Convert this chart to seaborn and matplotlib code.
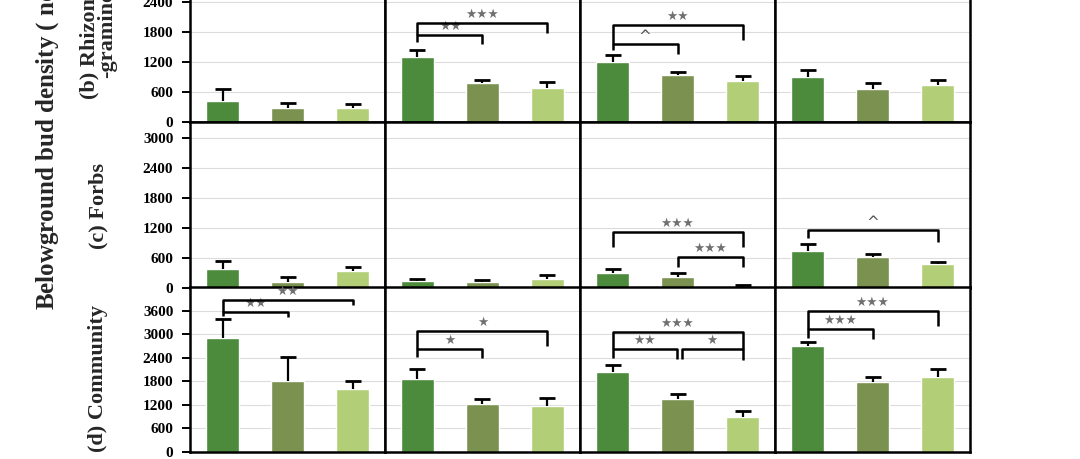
import numpy as np
import pandas as pd
import matplotlib
matplotlib.use("Agg")
import matplotlib.pyplot as plt
import seaborn as sns

# ---------------- data ----------------
groups = ["G1", "G2", "G3"]
colors = ["#4B8B3B", "#7B9150", "#B2CF78"]

row_labels = ["(b) Rhizomatous\n-graminoids", "(c) Forbs", "(d) Community"]
ylabel = "Belowground bud density ( no. m$^{-2}$ )"

# means per row (b, c, d), 4 columns each
means_b = [[430, 273, 273], [1293, 787, 673], [1200, 933, 827], [893, 660, 733]]
errs_b = [[224, 114, 94], [147, 53, 134], [133, 67, 100], [147, 113, 107]]

means_c = [[373, 120, 340], [140, 120, 173], [293, 213, 20], [747, 627, 480]]
errs_c = [[174, 93, 87], [40, 47, 87], [80, 94, 33], [126, 53, 47]]

means_d = [[2903, 1813, 1608], [1864, 1225, 1183], [2051, 1353, 902], [2706, 1779, 1915]]
errs_d = [[485, 621, 205], [247, 136, 204], [170, 128, 145], [111, 128, 212]]

yticks_bc = [0, 600, 1200, 1800, 2400, 3000]
yticks_d = [0, 600, 1200, 1800, 2400, 3000, 3600]

# significance brackets: (x_left, x_right, y_top, y_leg_left, y_leg_right, label)
brackets_b = [
    [],
    [(0, 1, 1740, 1607, 1560, "★★"), (0, 2, 1987, 1740, 1773, "★★★")],
    [(0, 1, 1560, 1433, 1367, "^"), (0, 2, 1940, 1560, 1640, "★★")],
    [],
]
brackets_c = [
    [],
    [],
    [(0, 2, 1113, 827, 826, "★★★"), (1, 2, 613, 427, 428, "★★★")],
    [(0, 2, 1160, 993, 913, "^")],
]
brackets_d = [
    [(0, 1, 3566, 3480, 3455, "★★"), (0, 2, 3880, 3566, 3753, "★★")],
    [(0, 1, 2630, 2434, 2392, "★"), (0, 2, 3097, 2630, 2714, "★")],
    [(0, 0.99, 2630, 2392, 2374, "★★"), (1.07, 2, 2630, 2374, 2349, "★"),
     (0, 2, 3056, 2630, 2630, "★★★")],
    [(0, 1, 3132, 2903, 2890, "★★★"), (0, 2, 3600, 3132, 3217, "★★★")],
]

# ---------------- style ----------------
sns.set_theme(style="white")
plt.rcParams["font.family"] = ["Liberation Serif", "DejaVu Sans"]
plt.rcParams["mathtext.fontset"] = "stix"

W, H = 1080, 459
fig = plt.figure(figsize=(W / 100, H / 100), dpi=100)

row_tops = [-44, 122, 287]
row_bottoms = [122, 288, 452]
row_ymax = [3320, 3320, 4210]
col_lefts = [190, 385, 580, 775]
col_w = 195

all_means = [means_b, means_c, means_d]
all_errs = [errs_b, errs_c, errs_d]
all_brackets = [brackets_b, brackets_c, brackets_d]
all_ticks = [yticks_bc, yticks_bc, yticks_d]

for r in range(3):
    for c in range(4):
        ax = fig.add_axes([col_lefts[c] / W, 1 - row_bottoms[r] / H,
                           col_w / W, (row_bottoms[r] - row_tops[r]) / H])
        m = all_means[r][c]
        e = all_errs[r][c]
        df = pd.DataFrame({"group": groups, "value": m})
        sns.barplot(data=df, x="group", y="value", hue="group", order=groups,
                    hue_order=groups, palette=colors, width=0.5, saturation=1,
                    legend=False, errorbar=None, ax=ax, zorder=2)
        cont = ax.errorbar(np.arange(3), m, yerr=[np.zeros(3), e], fmt="none",
                           ecolor="black", elinewidth=1.6, capsize=5.5,
                           capthick=2.0, zorder=3)
        # one-sided error bars: hide the lower caps
        cont[1][0].set_visible(False)
        ax.set_xlim(-0.5, 2.5)
        ax.set_ylim(0, row_ymax[r])
        ax.set_xlabel("")
        ax.set_ylabel("")
        ax.set_xticks([])
        ax.set_yticks(all_ticks[r])
        ax.yaxis.grid(True, color="#DCDCDC", lw=0.8)
        ax.set_axisbelow(True)
        for sp in ax.spines.values():
            sp.set_visible(True)
            sp.set_color("black")
            sp.set_linewidth(1.8)
        if c == 0:
            ax.tick_params(axis="y", direction="out", length=6, width=1.4,
                           color="black", labelsize=11, pad=6, left=True,
                           labelcolor="black")
            plt.setp(ax.get_yticklabels(), fontweight="bold")
        else:
            ax.tick_params(axis="y", left=False, labelleft=False)
        for (x1, x2, yh, yl1, yl2, lab) in all_brackets[r][c]:
            ax.plot([x1, x1, x2, x2], [yl1, yh, yh, yl2], color="black",
                    lw=1.8, clip_on=False, zorder=4, solid_capstyle="butt")
            if lab == "^":
                ax.annotate(lab, xy=((x1 + x2) / 2, yh), xytext=(0, 0),
                            textcoords="offset points", ha="center", va="bottom",
                            fontsize=11, color="#555555", family="DejaVu Sans",
                            annotation_clip=False)
            else:
                ax.annotate(lab, xy=((x1 + x2) / 2, yh), xytext=(0, 1.5),
                            textcoords="offset points", ha="center", va="bottom",
                            fontsize=9, color="#707070", family="DejaVu Sans",
                            annotation_clip=False)

# row labels
row_label_y = [20, 206, 379]
for r in range(3):
    fig.text(98 / W, 1 - row_label_y[r] / H, row_labels[r], rotation=90,
             ha="center", va="center", fontsize=16, fontweight="bold",
             multialignment="center", linespacing=0.85)

fig.text(47 / W, 1 - 310 / H, ylabel, rotation=90, ha="center", va="bottom",
         fontsize=18, fontweight="bold")

fig.savefig("out.png", dpi=100)
